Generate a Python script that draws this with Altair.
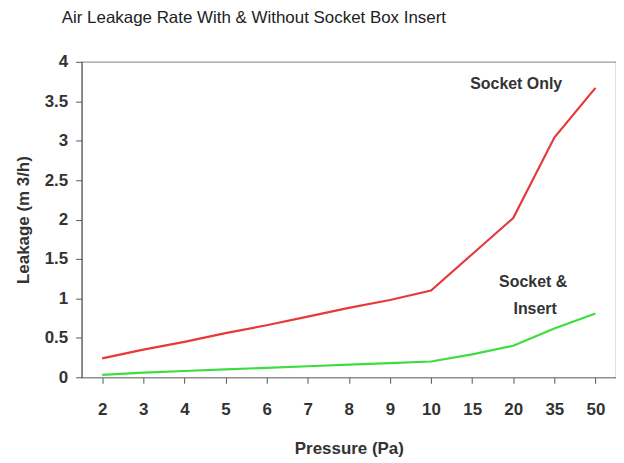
import altair as alt
import pandas as pd

pressure = ["2", "3", "4", "5", "6", "7", "8", "9", "10", "15", "20", "35", "50"]
socket_only = [0.24, 0.35, 0.45, 0.56, 0.66, 0.77, 0.88, 0.98, 1.10, 1.56, 2.02, 3.04, 3.67]
socket_insert = [0.03, 0.06, 0.08, 0.10, 0.12, 0.14, 0.16, 0.18, 0.20, 0.29, 0.40, 0.62, 0.81]
y_ticks = [0, 0.5, 1, 1.5, 2, 2.5, 3, 3.5, 4]

labels = ["Socket Only", "Socket &", "Insert"]
label_x = ["20", "20", "20"]
label_y = [3.72, 1.21, 0.87]
label_dx = [3, 20, 22]

df = pd.DataFrame({
    "Pressure": pressure * 2,
    "Leakage": socket_only + socket_insert,
    "Series": ["Socket Only"] * len(pressure) + ["Socket & Insert"] * len(pressure),
})
lab = pd.DataFrame({"text": labels, "Pressure": label_x, "Leakage": label_y, "dx": label_dx})

FONT = "Liberation Sans"

x = alt.X("Pressure:N", sort=pressure, title="Pressure (Pa)",
          scale=alt.Scale(paddingInner=0, paddingOuter=0),
          axis=alt.Axis(labelAngle=0, bandPosition=0, labelFontSize=17, labelFontWeight="bold",
                        labelColor="#333", titleFontSize=17, titleFontWeight="bold", titleColor="#333",
                        titlePadding=24, labelPadding=18, tickSize=6, tickColor="#555",
                        domainColor="#888", labelFont=FONT, titleFont=FONT, grid=False,
                        labelOverlap=False))
y = alt.Y("Leakage:Q", title="Leakage (m 3/h)",
          scale=alt.Scale(domain=[0, 4], nice=False),
          axis=alt.Axis(values=y_ticks, format="~g", labelFontSize=17,
                        labelFontWeight="bold", labelOverlap=False, labelFlush=False,
                        labelColor="#333", titleFontSize=17, titleFontWeight="bold", titleColor="#333",
                        titlePadding=12, labelPadding=8, tickSize=6, tickColor="#555",
                        domainColor="#555", labelFont=FONT, titleFont=FONT, grid=False))

lines = alt.Chart(df).mark_line(strokeWidth=2.2).encode(
    x=x, y=y,
    color=alt.Color("Series:N", scale=alt.Scale(domain=["Socket Only", "Socket & Insert"],
                                                range=["#e63a3a", "#3fdc3f"]), legend=None),
)

text_layers = []
for i in range(len(labels)):
    sub = lab.iloc[[i]]
    text_layers.append(
        alt.Chart(sub).mark_text(fontSize=16, fontWeight="bold", color="#333", font=FONT,
                                 dx=int(label_dx[i])).encode(x=x, y=y, text="text:N")
    )

chart = alt.layer(lines, *text_layers).properties(
    width=537, height=317,
    title=alt.TitleParams("Air Leakage Rate With & Without Socket Box Insert", anchor="start",
                          frame="group", fontSize=17, fontWeight="normal", font=FONT, color="#222",
                          dx=-20, offset=26),
    autosize=alt.AutoSizeParams(type="none"),
    padding={"left": 74, "top": 53, "right": 0, "bottom": 80},
).configure_view(stroke="#999", strokeWidth=1.2)

chart.save("out.html", embed_options={"renderer": "svg", "actions": False})
